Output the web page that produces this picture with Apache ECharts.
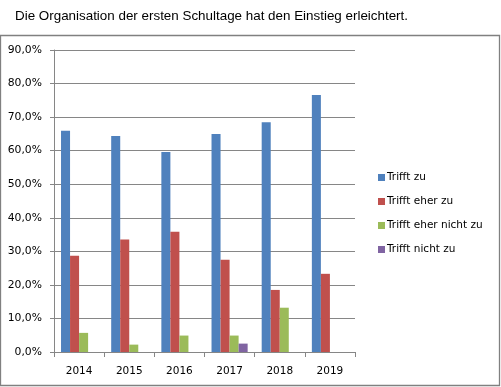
<!DOCTYPE html>
<html><head><meta charset="utf-8">
<script src="https://cdn.jsdelivr.net/npm/echarts@6/dist/echarts.min.js"></script>
<style>html,body{margin:0;padding:0;background:#fff}#c{width:501px;height:387px}</style>
</head><body><div id="c"></div>
<script>
const titleText = 'Die Organisation der ersten Schultage hat den Einstieg erleichtert.';
const categories = ['2014', '2015', '2016', '2017', '2018', '2019'];
const seriesNames = ['Trifft zu', 'Trifft eher zu', 'Trifft eher nicht zu', 'Trifft nicht zu'];
const trifftZu = [65.9, 64.4, 59.6, 65.0, 68.5, 76.6];
const trifftEherZu = [28.7, 33.5, 35.8, 27.5, 18.5, 23.3];
const trifftEherNichtZu = [5.7, 2.2, 4.9, 4.9, 13.2, null];
const trifftNichtZu = [null, null, null, 2.5, null, null];
const colors = ['#4F81BD', '#C0504D', '#9BBB59', '#8064A2'];

const values = [trifftZu, trifftEherZu, trifftEherNichtZu, trifftNichtZu];
const chart = echarts.init(document.getElementById('c'), null, {renderer: 'canvas'});
const font = 'DejaVu Sans';
chart.setOption({
  animation: false,
  title: {text: titleText, left: 10, top: 5,
    textStyle: {fontFamily: 'Liberation Sans', fontSize: 13.4, fontWeight: 'normal', color: '#000'}},
  graphic: [{type: 'rect', shape: {x: 0.5, y: 35.5, width: 499, height: 350},
    style: {fill: 'none', stroke: '#808080', lineWidth: 1.3}}],
  color: colors,
  legend: {orient: 'vertical', left: 373, top: 167, itemWidth: 7, itemHeight: 7, itemGap: 13,
    icon: 'rect', data: seriesNames,
    textStyle: {fontFamily: font, fontSize: 10.5, color: '#000', padding: [0, 0, 0, -3]}},
  grid: {left: 54, right: 146, top: 50, bottom: 35, containLabel: false},
  xAxis: {type: 'category', data: categories,
    axisLine: {lineStyle: {color: '#868686'}},
    axisTick: {show: true, length: 5, lineStyle: {color: '#868686'}},
    axisLabel: {fontFamily: font, fontSize: 10.5, color: '#000', margin: 14}},
  yAxis: {type: 'value', min: 0, max: 90, interval: 10,
    axisLine: {show: true, lineStyle: {color: '#868686'}},
    axisTick: {show: true, length: 4, lineStyle: {color: '#868686'}},
    splitLine: {lineStyle: {color: '#868686'}},
    axisLabel: {fontFamily: font, fontSize: 10.8, color: '#000', margin: 12,
      formatter: v => v.toFixed(1).replace('.', ',') + '%'}},
  series: seriesNames.map((n, i) => ({name: n, type: 'bar', data: values[i],
    barGap: '0%', barCategoryGap: '28%'}))
});
</script></body></html>
